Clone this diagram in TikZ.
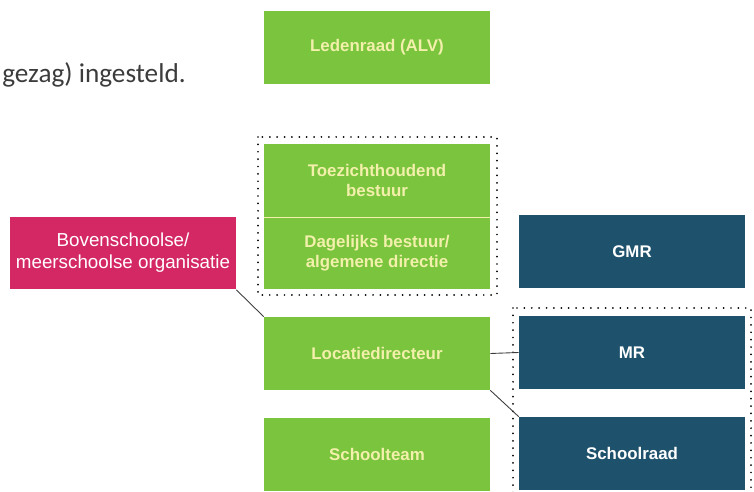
\documentclass[tikz,border=0pt]{standalone}
\usepackage{fontspec}
\setmainfont{Liberation Sans}
\newfontfamily\introfont{Carlito}
\definecolor{groen}{RGB}{122,196,62}
\definecolor{roze}{RGB}{212,40,100}
\definecolor{blauw}{RGB}{30,82,108}
\definecolor{geel}{RGB}{242,240,170}
\definecolor{grijs}{RGB}{60,60,60}
\tikzset{
  orgbox/.style={rectangle,minimum width=4.52cm,minimum height=1.46cm,
    inner sep=0pt,align=center,font=\fontsize{9.6}{11.7}\selectfont\bfseries},
  greenbox/.style={orgbox,fill=groen,text=geel},
  bluebox/.style={orgbox,fill=blauw,text=white},
  pinkbox/.style={orgbox,fill=roze,text=white,font=\fontsize{10.7}{12.5}\selectfont},
  dotframe/.style={line width=1.1pt,line cap=round,dash pattern=on 0pt off 4.2pt},
  link/.style={draw=grijs,line width=0.5pt},
  sepline/.style={draw=geel,line width=0.6pt}
}
\begin{document}
\begin{tikzpicture}[x=0.02cm,y=-0.02cm]
    \useasboundingbox (0,0) rectangle (754,492);
    \node at (2,82.7) [anchor=base west,inner sep=0pt,text=grijs,font=\introfont\fontsize{15.5}{18}\selectfont] (c000) {gezag) ingesteld.};

    \node at (377,47.5) [greenbox] (c100) {Ledenraad (ALV)};
    \node at (377,180.5) [greenbox] (c200) {Toezichthoudend\\bestuur};
    \node at (377,253) [greenbox] (c300) {Dagelijks bestuur/\\algemene directie};
    \node at (377,353.5) [greenbox] (c400) {Locatiedirecteur};
    \node at (377,454.5) [greenbox] (c500) {Schoolteam};
    \draw[sepline] (c200.south west)--(c200.south east);

    \node at (123,253) [pinkbox] (c310) {Bovenschoolse/\\meerschoolse organisatie};

    \node at (632,251.5) [bluebox] (c320) {GMR};
    \node at (632,352.5) [bluebox] (c410) {MR};
    \node at (632,453.5) [bluebox] (c510) {Schoolraad};

    \draw[dotframe] (258,137) rectangle (497,295);
    \draw[dotframe] (513,308) rectangle (751,500);

    \draw[link] (c310.south east)--(c400.north west);
    \draw[link] (c400.east)--(c410.west);
    \draw[link] (c400.south east)--(c510.north west);
\end{tikzpicture}
\end{document}
